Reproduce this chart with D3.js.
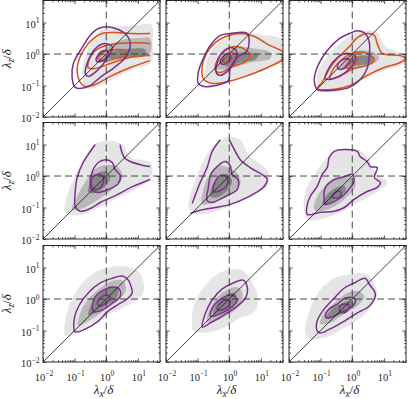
<!DOCTYPE html>
<html><head><meta charset="utf-8">
<script src="https://cdn.jsdelivr.net/npm/d3@7"></script>
<style>body{margin:0;background:#fff}svg{display:block}</style>
</head><body>
<svg id="c" width="408" height="399"></svg>
<script>
// all contour vertices are [log10(lambda_x/delta), log10(lambda_z/delta)]
const majorExp = [-2, -1, 0, 1];
const tickLabelExp = ["-2", "-1", "0", "1"];
const domainExp = [-2, 1.7];

const fillLight = [
 [[-0.76,-0.68],[-0.66,-0.05],[-0.44,0.43],[-0.19,0.74],[0.28,0.87],[0.92,0.90],[1.42,0.93],[1.46,0.27],[1.42,-0.27],[0.76,-0.52],[0.13,-0.84],[-0.35,-1.06],[-0.66,-1.09]],
 [[-0.76,-0.78],[-0.73,-0.27],[-0.51,0.17],[-0.13,0.49],[0.35,0.65],[0.98,0.62],[1.71,0.43],[1.71,-0.21],[0.98,-0.52],[0.35,-0.78],[-0.28,-0.93]],
 [[-1.04,-1.09],[-1.11,-0.68],[-0.89,-0.21],[-0.47,0.27],[-0.03,0.59],[0.38,0.74],[0.79,0.68],[1.01,0.27],[1.33,0.11],[1.68,-0.05],[1.68,-0.27],[1.01,-0.52],[0.38,-0.78],[-0.25,-1.09],[-0.73,-1.22]],
 [[-1.30,-1.15],[-1.27,-0.74],[-1.08,-0.21],[-0.82,0.36],[-0.57,0.78],[-0.28,1.06],[0.13,1.12],[0.51,1.00],[0.76,0.59],[1.39,0.43],[1.42,-0.05],[0.92,-0.43],[0.28,-0.74],[-0.35,-1.06],[-0.89,-1.25]],
 [[-1.27,-1.06],[-1.23,-0.59],[-1.01,0.05],[-0.76,0.59],[-0.44,1.00],[-0.03,1.25],[0.35,1.15],[0.60,0.68],[0.92,0.43],[1.23,0.14],[1.23,-0.27],[0.82,-0.59],[0.19,-0.90],[-0.44,-1.12],[-0.98,-1.22]],
 [[-1.52,-1.12],[-1.49,-0.49],[-1.20,0.05],[-0.79,0.59],[-0.38,0.84],[0.16,0.84],[0.47,0.62],[0.70,0.14],[1.11,-0.21],[0.89,-0.43],[0.25,-0.81],[-0.38,-1.15],[-1.01,-1.38],[-1.42,-1.38]],
 [[-1.30,-1.17],[-1.27,-0.54],[-1.08,0],[-0.76,0.51],[-0.35,0.85],[0.13,1.01],[0.60,1.04],[1.01,0.89],[1.17,0.57],[1.17,0.19],[0.92,-0.06],[0.44,-0.32],[-0.19,-0.63],[-0.76,-0.95],[-1.14,-1.14]],
 [[-1.17,-0.85],[-1.14,-0.28],[-0.82,0.35],[-0.38,0.79],[0.13,0.95],[0.44,0.89],[0.76,0.47],[0.92,-0.06],[0.76,-0.44],[0.35,-0.60],[-0.19,-0.92],[-0.82,-1.08],[-1.14,-1.01]],
 [[-1.49,-1.08],[-1.42,-0.60],[-1.11,0.16],[-0.57,0.66],[-0.06,0.79],[0.47,0.79],[0.70,0.47],[0.79,0.16],[0.57,-0.28],[0.25,-0.60],[-0.25,-0.92],[-0.89,-1.23],[-1.33,-1.27]]
];

const fillMid = [
 [[-0.35,-0.14],[-0.03,0.17],[0.44,0.43],[1.08,0.52],[1.39,0.49],[1.39,0.05],[0.92,-0.08],[0.28,-0.21],[-0.19,-0.27]],
 [[-0.44,-0.46],[-0.22,-0.05],[0.19,0.21],[0.82,0.17],[1.30,0.05],[1.30,-0.14],[0.66,-0.27],[0.03,-0.46]],
 [[-0.41,-0.46],[-0.16,-0.08],[0.22,0.11],[0.70,0.05],[0.85,-0.14],[0.60,-0.33],[0.06,-0.46]],
 [[-1.08,-1.06],[-0.89,-0.59],[-0.57,-0.05],[-0.28,0.27],[0.06,0.36],[0.38,0.27],[0.51,-0.05],[0.19,-0.43],[-0.35,-0.81],[-0.82,-1.06]],
 [[-0.85,-0.90],[-0.82,-0.43],[-0.60,0.08],[-0.28,0.33],[-0.03,0.27],[0.28,0.05],[0.35,-0.27],[0.09,-0.55],[-0.35,-0.78]],
 [[-1.20,-1.06],[-1.11,-0.65],[-0.79,-0.27],[-0.38,-0.05],[0.06,-0.11],[0.09,-0.36],[-0.16,-0.65],[-0.57,-0.97],[-1.01,-1.12]],
 [[-0.89,-0.85],[-0.82,-0.44],[-0.57,0],[-0.19,0.35],[0.19,0.57],[0.51,0.60],[0.63,0.32],[0.44,0],[0.06,-0.28],[-0.44,-0.63]],
 [[-0.70,-0.73],[-0.60,-0.28],[-0.19,0.22],[0.25,0.38],[0.41,0.22],[0.35,-0.19],[-0.06,-0.51],[-0.51,-0.73]],
 [[-1.01,-0.79],[-0.89,-0.44],[-0.57,-0.13],[-0.16,0.19],[0.22,0.25],[0.38,0.09],[0.16,-0.22],[-0.25,-0.47],[-0.70,-0.76]]
];

const fillDark = [
 [[-0.03,-0.05],[0.28,0.11],[0.76,0.17],[1.23,0.14],[1.23,-0.05],[0.60,-0.11],[0.13,-0.14]],
 [[-0.22,-0.30],[0.03,-0.02],[0.51,0.05],[0.92,-0.02],[0.82,-0.17],[0.35,-0.27],[-0.03,-0.40]],
 [[-0.16,-0.36],[0.06,-0.11],[0.38,-0.05],[0.70,-0.11],[0.60,-0.27],[0.22,-0.36]],
 [[-0.57,-0.49],[-0.44,-0.11],[-0.25,0.11],[0,0.14],[0.13,-0.05],[-0.06,-0.36],[-0.38,-0.55]],
 [[-0.60,-0.65],[-0.51,-0.27],[-0.28,0.02],[-0.03,0.05],[0.09,-0.17],[-0.09,-0.49],[-0.41,-0.68]],
 [[-0.95,-0.90],[-0.79,-0.59],[-0.47,-0.36],[-0.22,-0.33],[-0.22,-0.49],[-0.54,-0.74],[-0.79,-0.90]],
 [[-0.57,-0.51],[-0.44,-0.13],[-0.19,0.19],[0.13,0.38],[0.38,0.32],[0.32,0.03],[-0.03,-0.22],[-0.35,-0.44]],
 [[-0.51,-0.51],[-0.38,-0.13],[-0.09,0.13],[0.16,0.19],[0.25,0],[0.06,-0.25],[-0.28,-0.47]],
 [[-0.85,-0.63],[-0.70,-0.38],[-0.38,-0.16],[-0.06,-0.06],[0.06,-0.16],[-0.16,-0.35],[-0.54,-0.54]]
];

// purple outer contour: list of polylines per panel; closed flag per panel
const purpleOuter = [
 [[[-0.98,-1.06],[-1.08,-0.74],[-1.04,-0.30],[-0.76,0.21],[-0.51,0.59],[-0.25,0.81],[0.03,0.87],[0.38,0.78],[0.63,0.62],[0.76,0.36],[0.63,-0.08],[0.25,-0.43],[-0.19,-0.74],[-0.57,-1.03]]],
 [[[-0.98,-0.93],[-0.98,-0.59],[-0.85,-0.21],[-0.60,0.27],[-0.28,0.59],[0.03,0.65],[0.57,0.65],[0.57,0.11],[0.28,-0.08],[0.03,-0.46],[-0.03,-0.84],[-0.44,-1.00],[-0.79,-1.03]]],
 [[[-1.11,-1.12],[-1.20,-0.84],[-1.11,-0.43],[-0.79,0.11],[-0.41,0.49],[-0.09,0.65],[0.16,0.74],[0.41,0.65],[0.54,0.36],[0.54,-0.05],[0.47,-0.46],[0.28,-0.78],[-0.09,-1.06],[-0.57,-1.15]]],
 [[[-0.35,1.00],[-0.51,0.77],[-0.73,0.43],[-0.92,-0.05],[-0.98,-0.49],[-0.98,-0.97],[-0.82,-1.12],[-0.44,-1.00],[-0.19,-0.84],[0.35,-0.59],[0.85,-0.33],[1.39,-0.11]],
  [[1.39,0.30],[1.08,0.36],[0.76,0.46],[0.57,0.59],[0.47,0.84],[0.44,1.00]]],
 [[[-0.28,1.15],[-0.54,0.78],[-0.70,0.27],[-0.92,-0.21],[-1.17,-0.87]],
  [[-1.23,-1.19],[-0.92,-1.09],[-0.44,-1.00],[0.03,-0.90],[0.57,-0.68],[1.08,-0.36],[1.20,-0.11],[1.08,0.02],[0.66,0.27],[0.35,0.52],[0.13,0.90],[0,1.15]]],
 [[[-0.57,0.78],[-0.73,0.59],[-0.79,0.27],[-0.95,0.05],[-1.11,-0.33],[-1.33,-0.65],[-1.42,-0.90],[-1.42,-1.22],[-1.01,-1.15],[-0.57,-1.12],[-0.25,-1.00],[0.06,-0.74],[0.47,-0.49],[0.79,-0.36],[0.89,-0.21],[0.70,-0.05],[0.79,0.27],[0.57,0.30],[0.47,0.46],[0.25,0.62],[0.16,0.78],[-0.25,0.84]]],
 [[[-0.98,-1.04],[-1.01,-0.63],[-0.85,-0.19],[-0.57,0.19],[-0.19,0.51],[0.19,0.66],[0.51,0.73],[0.70,0.60],[0.79,0.38],[0.82,0.19],[0.66,0],[0.35,-0.19],[0.03,-0.41],[-0.25,-0.70],[-0.66,-0.95]]],
 [[[-0.85,-0.89],[-0.76,-0.47],[-0.54,-0.03],[-0.22,0.32],[0.13,0.51],[0.44,0.60],[0.57,0.38],[0.51,0.03],[0.22,-0.25],[-0.22,-0.54],[-0.60,-0.76]]],
 [[[-1.11,-1.01],[-1.11,-0.70],[-0.89,-0.32],[-0.57,0.03],[-0.25,0.35],[0.06,0.51],[0.41,0.66],[0.54,0.47],[0.70,0.25],[0.73,0.09],[0.54,-0.22],[0.16,-0.44],[-0.25,-0.70],[-0.70,-0.95],[-1.01,-1.08]]]
];
const purpleOuterClosed = [true, true, true, false, false, true, true, true, true];

const purpleMid = [
 [[-0.66,-0.62],[-0.57,-0.21],[-0.35,0.17],[-0.09,0.33],[0.19,0.24],[0.03,-0.14],[-0.28,-0.52],[-0.57,-0.71]],
 [[-0.41,-0.59],[-0.38,-0.27],[-0.22,0.05],[0.03,0.21],[0.22,0.11],[0.19,-0.21],[-0.03,-0.52],[-0.28,-0.68]],
 [[-0.85,-0.78],[-0.73,-0.43],[-0.47,-0.11],[-0.22,0.02],[0.09,-0.05],[0.06,-0.27],[-0.22,-0.59],[-0.57,-0.78]],
 [[-0.51,-0.27],[-0.44,0.14],[-0.25,0.43],[0,0.52],[0.19,0.43],[0.28,0.21],[0.44,0.02],[0.38,-0.24],[0.06,-0.43],[-0.28,-0.52],[-0.47,-0.43]],
 [[-0.70,-0.78],[-0.66,-0.36],[-0.57,0.08],[-0.35,0.33],[-0.13,0.46],[0.03,0.33],[0.09,0.05],[0.28,-0.11],[0.25,-0.43],[-0.13,-0.65],[-0.54,-0.84]],
 [[-0.89,-0.74],[-0.85,-0.36],[-0.57,-0.11],[-0.25,-0.02],[0,0.05],[0.06,-0.17],[-0.06,-0.36],[-0.32,-0.65],[-0.63,-0.84],[-0.85,-0.90]],
 [[-0.44,-0.28],[-0.35,0.06],[-0.09,0.28],[0.19,0.38],[0.41,0.32],[0.44,0.09],[0.19,-0.13],[-0.13,-0.35],[-0.38,-0.41]],
 [[-0.60,-0.54],[-0.47,-0.19],[-0.22,0.03],[0.09,0.13],[0.25,-0.03],[0.09,-0.25],[-0.28,-0.47]],
 [[-0.85,-0.54],[-0.73,-0.32],[-0.47,-0.16],[-0.22,0.03],[0.06,0.03],[0.09,-0.13],[-0.06,-0.28],[-0.25,-0.38],[-0.57,-0.54],[-0.79,-0.60]]
];

const purpleInner = [
 [[-0.32,-0.21],[-0.22,0.02],[-0.06,0.11],[0.06,0.05],[0,-0.11],[-0.19,-0.24]],
 [[-0.28,-0.27],[-0.19,-0.08],[-0.03,0.02],[0.06,-0.08],[-0.03,-0.24],[-0.19,-0.33]],
 [[-0.47,-0.43],[-0.38,-0.24],[-0.19,-0.14],[-0.06,-0.21],[-0.16,-0.36],[-0.38,-0.49]],
 [[-0.47,-0.30],[-0.44,-0.05],[-0.25,0.05],[-0.09,-0.05],[-0.13,-0.30],[-0.32,-0.43]],
 [[-0.51,-0.49],[-0.44,-0.17],[-0.28,0.02],[-0.09,-0.02],[-0.06,-0.27],[-0.28,-0.46]],
 [[-0.63,-0.65],[-0.54,-0.52],[-0.38,-0.49],[-0.35,-0.62],[-0.51,-0.71]],
 [[-0.28,-0.16],[-0.19,0.03],[0,0.13],[0.13,0.06],[0.03,-0.09],[-0.19,-0.22]],
 [[-0.38,-0.32],[-0.28,-0.13],[-0.09,-0.03],[0.03,-0.09],[-0.06,-0.25],[-0.25,-0.35]],
 [[-0.41,-0.32],[-0.38,-0.22],[-0.22,-0.16],[-0.09,-0.22],[-0.16,-0.38],[-0.32,-0.44]]
];

// orange contours exist in the top row only (first panel: open at the data edge)
const orangeOuter = [
 [[1.39,0.65],[0.76,0.65],[0.28,0.68],[-0.13,0.65],[-0.41,0.49],[-0.66,0.21],[-0.85,-0.14],[-0.92,-0.52],[-0.82,-0.90],[-0.66,-1.03],[-0.35,-0.97],[0.13,-0.71],[0.76,-0.43],[1.39,-0.21]],
 [[-0.82,-0.78],[-0.85,-0.36],[-0.70,0.05],[-0.44,0.36],[-0.13,0.55],[0.35,0.65],[0.82,0.55],[1.23,0.30],[1.71,0.05],[1.71,-0.14],[1.14,-0.46],[0.51,-0.71],[-0.03,-0.87],[-0.54,-0.93]],
 [[-1.11,-1.09],[-0.95,-0.90],[-0.70,-0.43],[-0.38,-0.05],[-0.06,0.27],[0.16,0.52],[0.47,0.65],[0.70,0.59],[0.79,0.33],[0.95,0.02],[1.52,-0.05],[1.68,-0.14],[1.52,-0.27],[1.01,-0.43],[0.47,-0.68],[-0.06,-1.00],[-0.57,-1.12]],
 null, null, null, null, null, null
];
const orangeMid = [
 [[1.39,0.33],[1.08,0.36],[0.13,0.30],[-0.35,0.11],[-0.57,-0.27],[-0.57,-0.43],[-0.35,-0.46],[0.13,-0.30],[0.76,-0.11],[1.39,-0.05]],
 [[-0.44,-0.52],[-0.35,-0.14],[-0.13,0.11],[0.19,0.24],[0.51,0.14],[0.66,-0.05],[0.51,-0.24],[0.09,-0.40],[-0.28,-0.59]],
 [[-0.70,-0.78],[-0.57,-0.43],[-0.25,-0.11],[0.09,0.05],[0.47,0.02],[0.70,-0.21],[0.47,-0.36],[0.06,-0.46],[-0.38,-0.68]],
 null, null, null, null, null, null
];
const orangeInner = [
 [[-0.25,-0.14],[-0.06,0.08],[0.28,0.14],[0.60,0.11],[0.66,-0.05],[0.28,-0.14],[-0.03,-0.21]],
 [[-0.22,-0.21],[-0.09,-0.02],[0.09,0.05],[0.22,-0.05],[0.09,-0.17],[-0.09,-0.27]],
 [[-0.22,-0.43],[-0.09,-0.21],[0.06,-0.08],[0.16,-0.14],[0.09,-0.30],[-0.06,-0.43]],
 null, null, null, null, null, null
];
const orangeOuterClosed = [false, true, true];
const orangeMidClosed = [false, true, true];

// ---------------- drawing ----------------
const svg = d3.select("#c");
const W = 117, H = 116.5;
const colX = [43, 166, 289], rowY = [0.5, 122.5, 245.5];
const dom = domainExp.map(e => Math.pow(10, e));
const C_PURPLE = "#7E2F8E", C_ORANGE = "#D95319";
const C_L = "#e5e5e5", C_M = "#b9b9b9", C_D = "#858585";
const FONT = "'Liberation Serif','Times New Roman',serif";

const majorVals = majorExp.map(e => Math.pow(10, e));
const minorVals = [];
for (let e = -2; e <= 1; e++) for (let m = 2; m <= 9; m++) {
  const v = m * Math.pow(10, e);
  if (v <= dom[1]) minorVals.push(v);
}

const defs = svg.append("defs");

for (let i = 0; i < 9; i++) {
  const r = Math.floor(i / 3), c = i % 3;
  const x = d3.scaleLog().domain(dom).range([colX[c], colX[c] + W]);
  const y = d3.scaleLog().domain(dom).range([rowY[r] + H, rowY[r]]);
  const px = d => x(Math.pow(10, d[0])), py = d => y(Math.pow(10, d[1]));
  const closed = d3.line().x(px).y(py).curve(d3.curveCatmullRomClosed.alpha(0.5));
  const open = d3.line().x(px).y(py).curve(d3.curveCatmullRom.alpha(0.5));

  defs.append("clipPath").attr("id", "clip" + i).append("rect")
    .attr("x", colX[c]).attr("y", rowY[r]).attr("width", W).attr("height", H);
  const g = svg.append("g").attr("clip-path", `url(#clip${i})`);

  g.append("path").attr("d", closed(fillLight[i])).attr("fill", C_L);
  g.append("path").attr("d", closed(fillMid[i])).attr("fill", C_M);
  g.append("path").attr("d", closed(fillDark[i])).attr("fill", C_D);

  const lines = g.append("g").attr("fill", "none").attr("stroke-width", 1.5).attr("stroke-linejoin", "round");
  if (orangeOuter[i]) lines.append("path").attr("d", (orangeOuterClosed[i] ? closed : open)(orangeOuter[i])).attr("stroke", C_ORANGE);
  if (orangeMid[i]) lines.append("path").attr("d", (orangeMidClosed[i] ? closed : open)(orangeMid[i])).attr("stroke", C_ORANGE);
  if (orangeInner[i]) lines.append("path").attr("d", closed(orangeInner[i])).attr("stroke", C_ORANGE);
  purpleOuter[i].forEach(pl => {
    lines.append("path").attr("d", purpleOuterClosed[i] ? closed(pl) : open(pl)).attr("stroke", C_PURPLE);
  });
  lines.append("path").attr("d", closed(purpleMid[i])).attr("stroke", C_PURPLE);
  lines.append("path").attr("d", closed(purpleInner[i])).attr("stroke", C_PURPLE);

  // reference lines
  g.append("line").attr("x1", x(dom[0])).attr("y1", y(dom[0])).attr("x2", x(dom[1])).attr("y2", y(dom[1]))
    .attr("stroke", "#111").attr("stroke-width", 0.8);
  g.append("line").attr("x1", x(1)).attr("x2", x(1)).attr("y1", rowY[r]).attr("y2", rowY[r] + H)
    .attr("stroke", "#333").attr("stroke-width", 0.9).attr("stroke-dasharray", "7,4");
  g.append("line").attr("y1", y(1)).attr("y2", y(1)).attr("x1", colX[c]).attr("x2", colX[c] + W)
    .attr("stroke", "#333").attr("stroke-width", 0.9).attr("stroke-dasharray", "7,4");

  // axes with inward ticks on all sides
  const ax = svg.append("g").attr("stroke", "#262626");
  const mk = (axisFn, scale, vals, len, tr) => {
    const a = ax.append("g").attr("transform", tr)
      .call(axisFn(scale).tickValues(vals).tickSize(len).tickFormat(""));
    a.select(".domain").remove();
    a.selectAll(".tick line").attr("stroke", "#262626").attr("stroke-width", 0.8);
  };
  const bT = `translate(0,${rowY[r] + H})`, tT = `translate(0,${rowY[r]})`;
  const lT = `translate(${colX[c]},0)`, rT = `translate(${colX[c] + W},0)`;
  mk(d3.axisBottom, x, majorVals, -3.5, bT); mk(d3.axisBottom, x, minorVals, -1.8, bT);
  mk(d3.axisTop, x, majorVals, -3.5, tT); mk(d3.axisTop, x, minorVals, -1.8, tT);
  mk(d3.axisLeft, y, majorVals, -3.5, lT); mk(d3.axisLeft, y, minorVals, -1.8, lT);
  mk(d3.axisRight, y, majorVals, -3.5, rT); mk(d3.axisRight, y, minorVals, -1.8, rT);
  svg.append("rect").attr("x", colX[c]).attr("y", rowY[r]).attr("width", W).attr("height", H)
    .attr("fill", "none").attr("stroke", "#262626").attr("stroke-width", 1);

  // tick labels
  if (c === 0) {
    majorExp.forEach((e, k) => {
      const t = svg.append("text").attr("x", colX[0] - 3.5).attr("y", y(Math.pow(10, e)) + 5)
        .attr("text-anchor", "end").attr("font-family", FONT).attr("font-size", 10.5).attr("fill", "#262626");
      t.append("tspan").text("10");
      t.append("tspan").attr("dy", -4.5).attr("font-size", 7.5).text(tickLabelExp[k].replace("-", "\u2212"));
    });
    const yt = svg.append("text").attr("transform", `translate(10.5,${rowY[r] + H / 2}) rotate(-90)`)
      .attr("text-anchor", "middle").attr("font-family", FONT).attr("font-size", 13).attr("fill", "#262626");
    yt.append("tspan").attr("font-style", "italic").text("λ");
    yt.append("tspan").attr("font-style", "italic").attr("font-size", 9.5).attr("dy", 3).text("z");
    yt.append("tspan").attr("dy", -3).text("/");
    yt.append("tspan").attr("font-style", "italic").text("δ");
  }
  if (r === 2) {
    majorExp.forEach((e, k) => {
      const t = svg.append("text").attr("x", x(Math.pow(10, e)) + 1).attr("y", rowY[2] + H + 18.5)
        .attr("text-anchor", "middle").attr("font-family", FONT).attr("font-size", 10.5).attr("fill", "#262626");
      t.append("tspan").text("10");
      t.append("tspan").attr("dy", -4.5).attr("font-size", 7.5).text(tickLabelExp[k].replace("-", "\u2212"));
    });
    const xt = svg.append("text").attr("x", colX[c] + W / 2 + 2).attr("y", 394)
      .attr("text-anchor", "middle").attr("font-family", FONT).attr("font-size", 13).attr("fill", "#262626");
    xt.append("tspan").attr("font-style", "italic").text("λ");
    xt.append("tspan").attr("font-style", "italic").attr("font-size", 9.5).attr("dy", 3).text("x");
    xt.append("tspan").attr("dy", -3).text("/");
    xt.append("tspan").attr("font-style", "italic").text("δ");
  }
}
</script>
</body></html>
